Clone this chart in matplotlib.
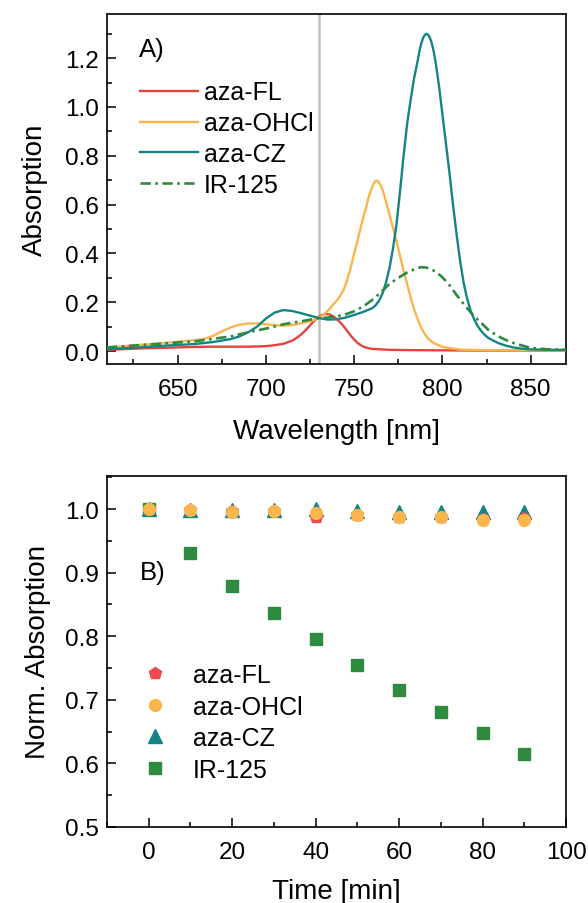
import numpy as np
import matplotlib
matplotlib.use('Agg')
import matplotlib.pyplot as plt
from matplotlib.ticker import MultipleLocator

plt.rcParams['font.family'] = ['Liberation Sans', 'DejaVu Sans']

# === Spectra ===
wl_fl = [610, 620, 630, 640, 650, 660, 670, 680, 690, 700, 705, 710, 715, 718, 720, 722,
         724, 726, 728, 730, 732, 734, 736, 738, 740, 742, 744, 746, 748, 750, 752, 754,
         756, 758, 760, 770, 780, 800, 820, 850, 870]
abs_fl = [0.005, 0.008, 0.011, 0.013, 0.015, 0.017, 0.018, 0.018, 0.018, 0.02, 0.024, 0.03,
          0.043, 0.057, 0.068, 0.082, 0.097, 0.113, 0.128, 0.14, 0.148, 0.152, 0.15, 0.143,
          0.132, 0.118, 0.102, 0.083, 0.064, 0.047, 0.033, 0.023, 0.016, 0.012, 0.009,
          0.005, 0.004, 0.003, 0.002, 0.002, 0.002]

wl_oh = [610, 620, 630, 640, 650, 660, 665, 670, 675, 680, 685, 690, 695, 700, 705, 710,
         715, 720, 725, 730, 732, 734, 736, 738, 740, 742, 744, 746, 748, 750, 752, 754,
         756, 757, 758, 759, 760, 761, 762, 763, 764, 765, 766, 767, 768, 770, 772, 774,
         776, 778, 780, 782, 784, 786, 788, 790, 792, 795, 800, 810, 820, 840, 870]
abs_oh = [0.015, 0.02, 0.026, 0.032, 0.038, 0.045, 0.05, 0.062, 0.08, 0.097, 0.108, 0.113,
          0.113, 0.11, 0.106, 0.104, 0.107, 0.114, 0.122, 0.135, 0.145, 0.158, 0.172, 0.19,
          0.205, 0.225, 0.25, 0.29, 0.34, 0.40, 0.455, 0.515, 0.57, 0.595, 0.625, 0.648,
          0.668, 0.685, 0.696, 0.698, 0.692, 0.68, 0.663, 0.64, 0.612, 0.56, 0.505, 0.45,
          0.39, 0.33, 0.275, 0.22, 0.17, 0.13, 0.095, 0.07, 0.05, 0.033, 0.017, 0.006,
          0.004, 0.003, 0.003]

wl_cz = [610, 620, 630, 640, 650, 660, 670, 680, 685, 690, 695, 700, 705, 710, 715, 720,
         725, 730, 735, 740, 745, 750, 755, 760, 762, 764, 766, 768, 770, 772, 774, 776,
         778, 780, 782, 784, 786, 787, 788, 789, 790, 791, 792, 793, 794, 795, 796, 798,
         800, 802, 804, 806, 808, 810, 812, 814, 816, 818, 820, 822, 824, 826, 829, 832,
         836, 840, 845, 850, 860, 870]
abs_cz = [0.008, 0.012, 0.016, 0.021, 0.025, 0.029, 0.037, 0.049, 0.06, 0.077, 0.1, 0.133,
          0.158, 0.168, 0.164, 0.155, 0.145, 0.135, 0.129, 0.13, 0.137, 0.148, 0.16, 0.175,
          0.186, 0.205, 0.235, 0.28, 0.34, 0.42, 0.52, 0.655, 0.80, 0.93, 1.03, 1.12, 1.19,
          1.23, 1.26, 1.282, 1.295, 1.30, 1.295, 1.282, 1.26, 1.23, 1.19, 1.09, 0.97, 0.85,
          0.73, 0.60, 0.48, 0.37, 0.28, 0.215, 0.165, 0.13, 0.102, 0.082, 0.066, 0.054,
          0.042, 0.032, 0.022, 0.015, 0.01, 0.007, 0.005, 0.005]

wl_ir = [610, 620, 630, 640, 650, 660, 670, 680, 690, 700, 710, 720, 730, 735, 740, 745,
         750, 755, 760, 765, 770, 775, 780, 785, 788, 791, 795, 799, 803, 808, 812, 817,
         822, 826, 831, 836, 841, 850, 860, 870]
abs_ir = [0.015, 0.02, 0.025, 0.03, 0.035, 0.04, 0.05, 0.06, 0.077, 0.092, 0.11, 0.122,
          0.135, 0.137, 0.142, 0.15, 0.163, 0.182, 0.208, 0.24, 0.275, 0.30, 0.322, 0.338,
          0.344, 0.342, 0.33, 0.309, 0.28, 0.23, 0.193, 0.15, 0.115, 0.087, 0.063, 0.045,
          0.031, 0.013, 0.007, 0.005]

# === Photostability ===
time_min = [0, 10, 20, 30, 40, 50, 60, 70, 80, 90]
norm_fl = [1.000, 0.998, 0.997, 0.997, 0.988, 0.990, 0.988, 0.988, 0.985, 0.986]
norm_oh = [1.000, 0.998, 0.996, 0.997, 0.994, 0.991, 0.987, 0.987, 0.983, 0.983]
norm_cz = [1.000, 0.998, 0.998, 0.999, 1.000, 0.997, 0.995, 0.996, 0.995, 0.996]
norm_ir = [1.000, 0.931, 0.879, 0.836, 0.796, 0.754, 0.716, 0.681, 0.648, 0.615]

c_red = '#e8413c'
c_pent = '#f04a4a'
c_orange = '#f9b64d'
c_teal = '#138586'
c_green = '#2e8a3e'

tick_fs = 17.5
label_fs = 20
leg_fs = 18

fig = plt.figure(figsize=(5.88, 9.04), dpi=100)
W, H = 588, 904

def style_axes(ax):
    ax.tick_params(which='both', direction='in', top=False, right=False,
                   labelsize=tick_fs, width=1.1)
    ax.tick_params(axis='x', which='both', pad=10)
    ax.tick_params(axis='y', which='both', pad=6)
    ax.tick_params(which='major', length=6.5)
    ax.tick_params(which='minor', length=3.5)
    for s in ax.spines.values():
        s.set_linewidth(1.2)

# === Panel A ===
ax1 = fig.add_axes([107 / W, 1 - 365 / H, (566 - 107) / W, (365 - 15) / H])
ax1.axvline(730, color='#c0c0c0', lw=1.8, zorder=1)
ax1.plot(wl_fl, abs_fl, color=c_red, lw=1.7, label='aza-FL', zorder=3)
ax1.plot(wl_oh, abs_oh, color=c_orange, lw=1.7, label='aza-OHCl', zorder=3)
ax1.plot(wl_cz, abs_cz, color=c_teal, lw=1.7, label='aza-CZ', zorder=3)
ax1.plot(wl_ir, abs_ir, color=c_green, lw=1.9, label='IR-125', zorder=3,
         linestyle=(0, (3.9, 1.7, 1.0, 1.7)))
ax1.set_xlim(610, 870)
ax1.set_ylim(-0.053, 1.381)
ax1.xaxis.set_major_locator(MultipleLocator(50))
ax1.xaxis.set_minor_locator(MultipleLocator(25))
ax1.yaxis.set_major_locator(MultipleLocator(0.2))
ax1.yaxis.set_minor_locator(MultipleLocator(0.1))
ax1.yaxis.set_major_formatter(plt.FuncFormatter(lambda v, p: f'{v:.1f}'))
style_axes(ax1)
ax1.set_xlabel('Wavelength [nm]', fontsize=label_fs, labelpad=13)
ax1.set_ylabel('Absorption', fontsize=label_fs, labelpad=12)
ax1.text(0.07, 0.881, 'A)', transform=ax1.transAxes, fontsize=18.5, va='baseline')
ax1.legend(loc='upper left', bbox_to_anchor=(0.072, 0.81), frameon=False,
           fontsize=leg_fs, handlelength=2.3, handletextpad=0.25,
           labelspacing=0.27, borderpad=0, borderaxespad=0)

# === Panel B ===
ax2 = fig.add_axes([107 / W, 1 - 828 / H, (566 - 107) / W, (828 - 477) / H])
ax2.plot(time_min, norm_ir, 's', color=c_green, ms=8.5, label='IR-125', zorder=2)
ax2.plot(time_min, norm_cz, '^', color=c_teal, ms=9.5, label='aza-CZ', zorder=3)
ax2.plot(time_min, norm_fl, 'p', color=c_pent, ms=9, label='aza-FL', zorder=4)
ax2.plot(time_min, norm_oh, 'o', color=c_orange, ms=8.5, label='aza-OHCl', zorder=5)
ax2.set_xlim(-10, 100)
ax2.set_ylim(0.5, 1.052)
ax2.xaxis.set_major_locator(MultipleLocator(20))
ax2.xaxis.set_minor_locator(MultipleLocator(10))
ax2.yaxis.set_major_locator(MultipleLocator(0.1))
ax2.yaxis.set_minor_locator(MultipleLocator(0.05))
ax2.yaxis.set_major_formatter(plt.FuncFormatter(lambda v, p: f'{v:.1f}'))
style_axes(ax2)
ax2.set_xlabel('Time [min]', fontsize=label_fs, labelpad=11)
ax2.set_ylabel('Norm. Absorption', fontsize=label_fs, labelpad=10)
ax2.text(0.072, 0.7066, 'B)', transform=ax2.transAxes, fontsize=18.5, va='baseline')
h, l = ax2.get_legend_handles_labels()
order = [2, 3, 1, 0]
ax2.legend([h[i] for i in order], [l[i] for i in order], loc='upper left',
           bbox_to_anchor=(0.078, 0.467), frameon=False, fontsize=leg_fs,
           handlelength=1.0, handletextpad=1.0, labelspacing=0.3,
           borderpad=0, borderaxespad=0)

fig.savefig('out.png', dpi=100)
